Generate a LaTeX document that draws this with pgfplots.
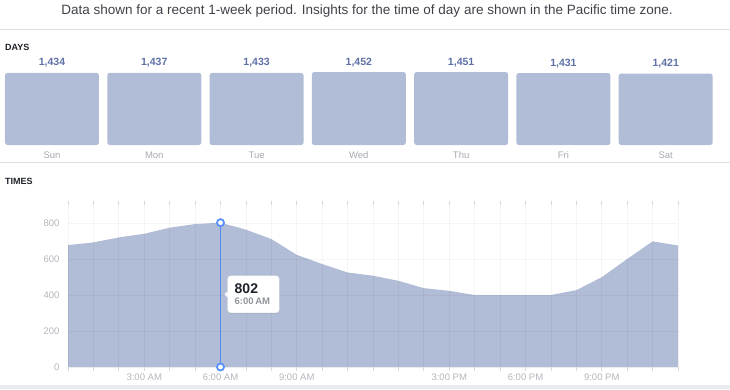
\documentclass[border=0pt]{standalone}
\usepackage{pgfplots}
\pgfplotsset{compat=1.18}
\usepackage{fontspec}
\setmainfont{Liberation Sans}
\usetikzlibrary{shadows}
\definecolor{barc}{RGB}{177,188,214}
\definecolor{barlab}{RGB}{94,112,166}
\definecolor{titlec}{RGB}{62,65,72}
\definecolor{headc}{RGB}{29,33,41}
\definecolor{dayc}{RGB}{165,169,176}
\definecolor{tickc}{RGB}{178,182,188}
\definecolor{sepc}{RGB}{221,223,226}
\definecolor{bandc}{RGB}{233,235,238}
\definecolor{tipblue}{RGB}{88,144,255}
\definecolor{tipgray}{RGB}{144,148,156}
\begin{document}
\begin{tikzpicture}[x=1pt,y=1pt]
\path[use as bounding box] (0,0) rectangle (730,389);
% title
\node[anchor=base, font=\fontsize{13.5}{15}\selectfont, text=titlec, inner sep=0] at (367,374) {Data shown for a recent 1-week period. Insights for the time of day are shown in the Pacific time zone.};
\draw[sepc, line width=1pt] (0,359.5) -- (730,359.5);
\node[anchor=base west, font=\bfseries\fontsize{9}{10}\selectfont, text=headc, inner sep=0] at (5,338.5) {DAYS};
\begin{axis}[
  at={(0.85pt,244pt)}, anchor=south west, scale only axis,
  width=716pt, height=73pt,
  xmin=-0.5, xmax=6.5, ymin=0, ymax=1452,
  ybar, bar width=94pt,
  axis line style={draw=none}, tick style={draw=none},
  ytick=\empty,
  xtick={0,...,6},
  xticklabels={Sun,Mon,Tue,Wed,Thu,Fri,Sat},
  xticklabel style={font=\fontsize{9.5}{11}\selectfont, text=dayc, yshift=1pt},
  /pgf/number format/.cd, 1000 sep={,}, assume math mode=true,
  /pgfplots/.cd,
  nodes near coords,
  every node near coord/.append style={font=\bfseries\fontsize{10.5}{12}\selectfont, text=barlab, anchor=base, yshift=7pt},
  clip=false,
]
\addplot[fill=barc, draw=none, rounded corners=2.5pt] coordinates {
(0,1434) (1,1437) (2,1433) (3,1452) (4,1451) (5,1431) (6,1421)};
\end{axis}
\draw[sepc, line width=1pt] (0,227) -- (730,227);
\node[anchor=base west, font=\bfseries\fontsize{9}{10}\selectfont, text=headc, inner sep=0] at (5,204.5) {TIMES};
\begin{axis}[
  at={(68pt,22pt)}, anchor=south west, scale only axis,
  width=610pt, height=162pt,
  xmin=0, xmax=24, ymin=0, ymax=900,
  xtick={0,...,24},
  xticklabels={,,,3:00 AM,,,6:00 AM,,,9:00 AM,,,,,,3:00 PM,,,6:00 PM,,,9:00 PM,,,},
  ytick={0,200,400,600,800},
  grid=major,
  grid style={black, opacity=0.04, line width=0.7pt},
  axis line style={draw=none},
  xtick style={draw=black!15, line width=0.8pt},
  ytick style={draw=none},
  tick align=outside, major tick length=4pt,
  xticklabel style={font=\fontsize{9.5}{11}\selectfont, text=tickc, yshift=1pt},
  yticklabel style={font=\fontsize{9.5}{11}\selectfont, text=tickc, xshift=-1pt},
  /pgf/number format/assume math mode=true,
  axis on top,
  clip=false,
]
\addplot[fill=barc, draw=none] coordinates {
(0,677) (1,692) (2,720) (3,740) (4,774) (5,794) (6,802) (7,763) (8,711)
(9,623) (10,572) (11,525) (12,507) (13,479) (14,438) (15,423) (16,400)
(17,400) (18,400) (19,400) (20,427) (21,499) (22,600) (23,698) (24,675)} \closedcycle;
\addplot[tipblue, line width=1.6pt, mark=*, mark size=3.5pt, mark options={fill=white, draw=tipblue, line width=1.8pt}] coordinates {(6,0) (6,802)};
\coordinate (tt) at (axis cs:6,404);
\end{axis}
\node[anchor=west, xshift=7pt, fill=white, draw=black!10, rounded corners=3pt, drop shadow={opacity=0.15, shadow xshift=0pt, shadow yshift=-1pt},
  minimum width=51pt, minimum height=37pt, inner xsep=7pt, align=left, text width=37.5pt] (box) at (tt)
  {{\bfseries\fontsize{14}{15}\selectfont\color{headc}802}\\[-1.5pt]{\bfseries\fontsize{9.5}{10}\selectfont\color{tipgray}6:00\,AM}};
\fill[white] ([yshift=3pt]box.west) -- ++(-3pt,-3pt) -- ++(3pt,-3pt) -- cycle;
\fill[bandc] (0,0) rectangle (730,4.5);
\end{tikzpicture}
\end{document}
